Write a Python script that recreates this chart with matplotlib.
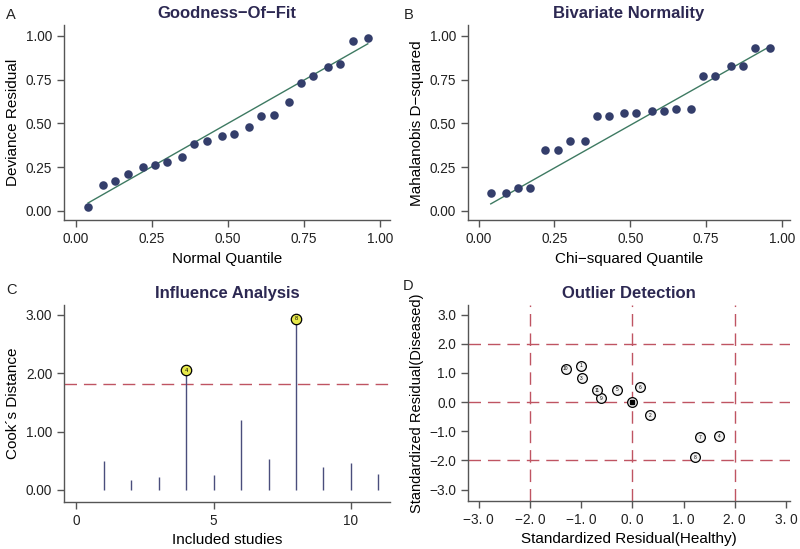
import matplotlib.pyplot as plt

plt.rcParams['font.family'] = ['Liberation Sans', 'DejaVu Sans']

# A: goodness of fit
gof_quantile = [0.04, 0.09, 0.13, 0.17, 0.22, 0.26, 0.30, 0.35, 0.39, 0.43, 0.48,
                0.52, 0.57, 0.61, 0.65, 0.70, 0.74, 0.78, 0.83, 0.87, 0.91, 0.96]
gof_residual = [0.02, 0.15, 0.17, 0.21, 0.25, 0.26, 0.28, 0.31, 0.38, 0.40, 0.43,
                0.44, 0.48, 0.54, 0.55, 0.62, 0.73, 0.77, 0.82, 0.84, 0.97, 0.99]
gof_line_x = [0.04, 0.96]
gof_line_y = [0.045, 0.955]

# B: bivariate normality
chi_quantile = gof_quantile
maha_d2 = [0.10, 0.10, 0.13, 0.13, 0.35, 0.35, 0.40, 0.40, 0.54, 0.54, 0.56,
           0.56, 0.57, 0.57, 0.58, 0.58, 0.77, 0.77, 0.83, 0.83, 0.93, 0.93]
bvn_line_x = [0.04, 0.96]
bvn_line_y = [0.04, 0.94]

# C: influence analysis
studies = [1, 2, 3, 4, 5, 6, 7, 8, 9, 10, 11]
cooks_d = [0.50, 0.17, 0.23, 2.05, 0.26, 1.20, 0.53, 2.93, 0.39, 0.47, 0.27]
cooks_cut = 1.82

# D: outlier detection
resid_healthy = [-1.00, 0.35, -0.99, 1.69, -0.29, 0.15, 1.33, 1.22, -0.61, -1.30, -0.69]
resid_diseased = [1.25, -0.45, 0.82, -1.17, 0.42, 0.51, -1.20, -1.89, 0.14, 1.14, 0.40]

NAVY = '#343e6b'
TITLE = '#2c2852'
GREEN = '#3e7a62'
RED = '#bf5462'
SPINE = '#555555'
DASH = (9, 5)

fig = plt.figure(figsize=(8, 5.49), dpi=100)
ax_a = fig.add_axes([0.08, 0.599, 0.4075, 0.355])
ax_b = fig.add_axes([0.585, 0.599, 0.4025, 0.355])
ax_c = fig.add_axes([0.08, 0.0856, 0.4075, 0.359])
ax_d = fig.add_axes([0.585, 0.0874, 0.4025, 0.357])


def style(ax):
    for s in ['top', 'right']:
        ax.spines[s].set_visible(False)
    for s in ['left', 'bottom']:
        ax.spines[s].set_color(SPINE)
        ax.spines[s].set_linewidth(1.0)
    ax.tick_params(colors='#222222', labelsize=9.8, length=5, width=1.0, color=SPINE)


for ax in [ax_a, ax_b, ax_c, ax_d]:
    style(ax)

# A
ax_a.plot(gof_line_x, gof_line_y, color=GREEN, lw=1.0, zorder=2)
ax_a.scatter(gof_quantile, gof_residual, s=38, color=NAVY, zorder=3, linewidths=0)
ax_a.set_xlim(-0.039, 1.033)
ax_a.set_ylim(-0.053, 1.061)
ax_a.set_xticks([0, 0.25, 0.5, 0.75, 1.0])
ax_a.set_yticks([0, 0.25, 0.5, 0.75, 1.0])
ax_a.xaxis.set_major_formatter('{x:.2f}')
ax_a.yaxis.set_major_formatter('{x:.2f}')
ax_a.set_xlabel('Normal Quantile', fontsize=11)
ax_a.set_ylabel('Deviance Residual', fontsize=11)
ax_a.set_title('Goodness\u2212Of\u2212Fit', fontsize=12, fontweight='bold', color=TITLE, pad=5)

# B
ax_b.plot(bvn_line_x, bvn_line_y, color=GREEN, lw=1.0, zorder=2)
ax_b.scatter(chi_quantile, maha_d2, s=38, color=NAVY, zorder=3, linewidths=0)
ax_b.set_xlim(-0.035, 1.026)
ax_b.set_ylim(-0.053, 1.061)
ax_b.set_xticks([0, 0.25, 0.5, 0.75, 1.0])
ax_b.set_yticks([0, 0.25, 0.5, 0.75, 1.0])
ax_b.xaxis.set_major_formatter('{x:.2f}')
ax_b.yaxis.set_major_formatter('{x:.2f}')
ax_b.set_xlabel('Chi\u2212squared Quantile', fontsize=11)
ax_b.set_ylabel('Mahalanobis D\u2212squared', fontsize=11)
ax_b.set_title('Bivariate Normality', fontsize=12, fontweight='bold', color=TITLE, pad=5)

# C
ax_c.vlines(studies, 0, cooks_d, color='#4a4e7c', lw=1.0, zorder=2)
ax_c.axhline(cooks_cut, color=RED, lw=1.0, dashes=DASH, zorder=1)
for st, d in zip(studies, cooks_d):
    if d > cooks_cut:
        ax_c.plot(st, d, 'o', ms=7.5, mfc='#e6e84a', mec='black', mew=0.9, zorder=3)
        ax_c.text(st, d, str(st), fontsize=4, ha='center', va='center', zorder=4)
ax_c.set_xlim(-0.44, 11.42)
ax_c.set_ylim(-0.206, 3.17)
ax_c.set_xticks([0, 5, 10])
ax_c.set_yticks([0, 1, 2, 3])
ax_c.yaxis.set_major_formatter('{x:.2f}')
ax_c.set_xlabel('Included studies', fontsize=11)
ax_c.set_ylabel('Cook\u00b4s Distance', fontsize=11)
ax_c.set_title('Influence Analysis', fontsize=12, fontweight='bold', color=TITLE, pad=5)

# D
for v in [-2, 0, 2]:
    ax_d.axvline(v, color=RED, lw=1.0, dashes=DASH, zorder=1)
    ax_d.axhline(v, color=RED, lw=1.0, dashes=DASH, zorder=1)
for i, (hx, dy) in enumerate(zip(resid_healthy, resid_diseased)):
    ax_d.plot(hx, dy, 'o', ms=7, mfc='#f2f2f2', mec='black', mew=0.9, zorder=3)
    ax_d.text(hx, dy, str(i + 1), fontsize=3.5, ha='center', va='center', zorder=4)
ax_d.plot(0, 0, 'o', ms=7, mfc='#f2f2f2', mec='black', mew=0.9, zorder=3)
ax_d.plot(0, 0, 's', ms=3, color='black', zorder=4)
ax_d.set_xlim(-3.21, 3.08)
ax_d.set_ylim(-3.39, 3.33)
ax_d.set_xticks([-3, -2, -1, 0, 1, 2, 3])
ax_d.set_xticklabels(['\u22123. 0', '\u22122. 0', '\u22121. 0', '0. 0', '1. 0', '2. 0', '3. 0'])
ax_d.set_yticks([-3, -2, -1, 0, 1, 2, 3])
ax_d.set_yticklabels(['\u22123.0', '\u22122.0', '\u22121.0', '0.0', '1.0', '2.0', '3.0'])
ax_d.set_xlabel('Standardized Residual(Healthy)', fontsize=11)
ax_d.set_ylabel('Standardized Residual(Diseased)', fontsize=10.5)
ax_d.set_title('Outlier Detection', fontsize=12, fontweight='bold', color=TITLE, pad=5)

# panel letters
for lab, x, y in [('A', 0.008, 0.965), ('B', 0.505, 0.965), ('C', 0.008, 0.465), ('D', 0.503, 0.472)]:
    fig.text(x, y, lab, fontsize=10.5, color='#222222')

fig.savefig('out.png', dpi=100)
